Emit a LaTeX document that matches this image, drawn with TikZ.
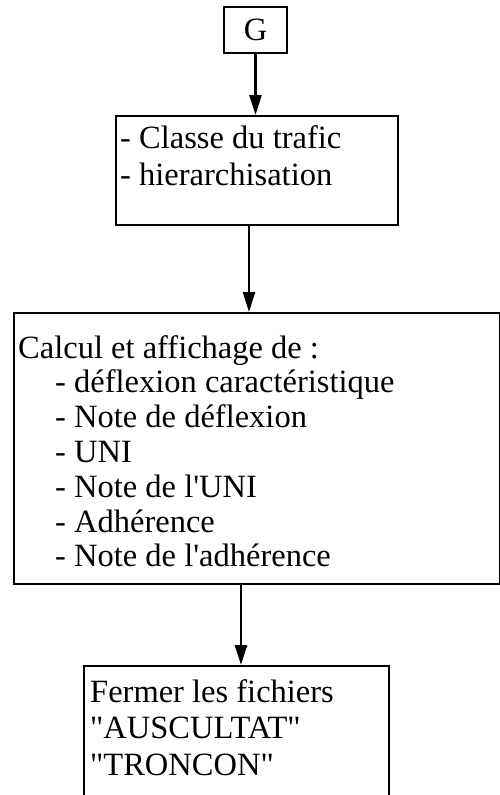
\documentclass[tikz,border=0pt]{standalone}
\usepackage{fontspec}
\setmainfont{Liberation Serif}[Ligatures=TeXOff]
\usetikzlibrary{arrows.meta}

\begin{document}
\begin{tikzpicture}[x=1pt,y=-1pt]
\tikzset{box/.style = {draw,line width=2pt,inner sep=0pt},
    txt/.style = {anchor=base west,inner sep=0pt,font=\fontsize{32.5}{35}\selectfont},
    flow/.style = {line width=2.4pt,-{Triangle[length=20pt,width=12pt]}}}
\useasboundingbox (0,0) rectangle (500,795);
\clip (0,0) rectangle (500,795);
% boxes
\node[box,minimum width=63pt,minimum height=46pt,font=\fontsize{32.5}{35}\selectfont] (g) at (255.5,30) {G};
\node[box,anchor=north west,minimum width=282pt,minimum height=109pt] (trafic) at (115,115) {};
\node[box,anchor=north west,minimum width=486pt,minimum height=271pt] (calcul) at (13,312) {};
\node[box,anchor=north west,minimum width=305pt,minimum height=150pt] (fermer) at (83,665) {};
% text
\node[txt] (classe) at (120,148) {- Classe du trafic};
\node[txt] (hier) at (120,185) {- hierarchisation};
\node[txt] (calcul-0) at (18,358) {Calcul et affichage de :};
\foreach \i/\lbl in {1/déflexion caractéristique,2/Note de déflexion,3/UNI,4/Note de l'UNI,5/Adhérence,6/Note de l'adhérence} {
    \node[txt] (calcul-\i) at (55,{358+\i*34.8}) {- \lbl};
}
\node[txt] (fermer-1) at (90,702) {Fermer les fichiers};
\node[txt] (fermer-2) at (90,738) {"AUSCULTAT"};
\node[txt] (fermer-3) at (90,775) {"TRONCON"};
% arrows
\draw[flow] (g.south) -- (g |- trafic.north);
\draw[flow] ([xshift=-8pt]trafic.south) -- ([xshift=-8pt]trafic.south |- calcul.north);
\draw[flow] ([xshift=-16pt]calcul.south) -- ([xshift=-16pt]calcul.south |- fermer.north);
\end{tikzpicture}
\end{document}
